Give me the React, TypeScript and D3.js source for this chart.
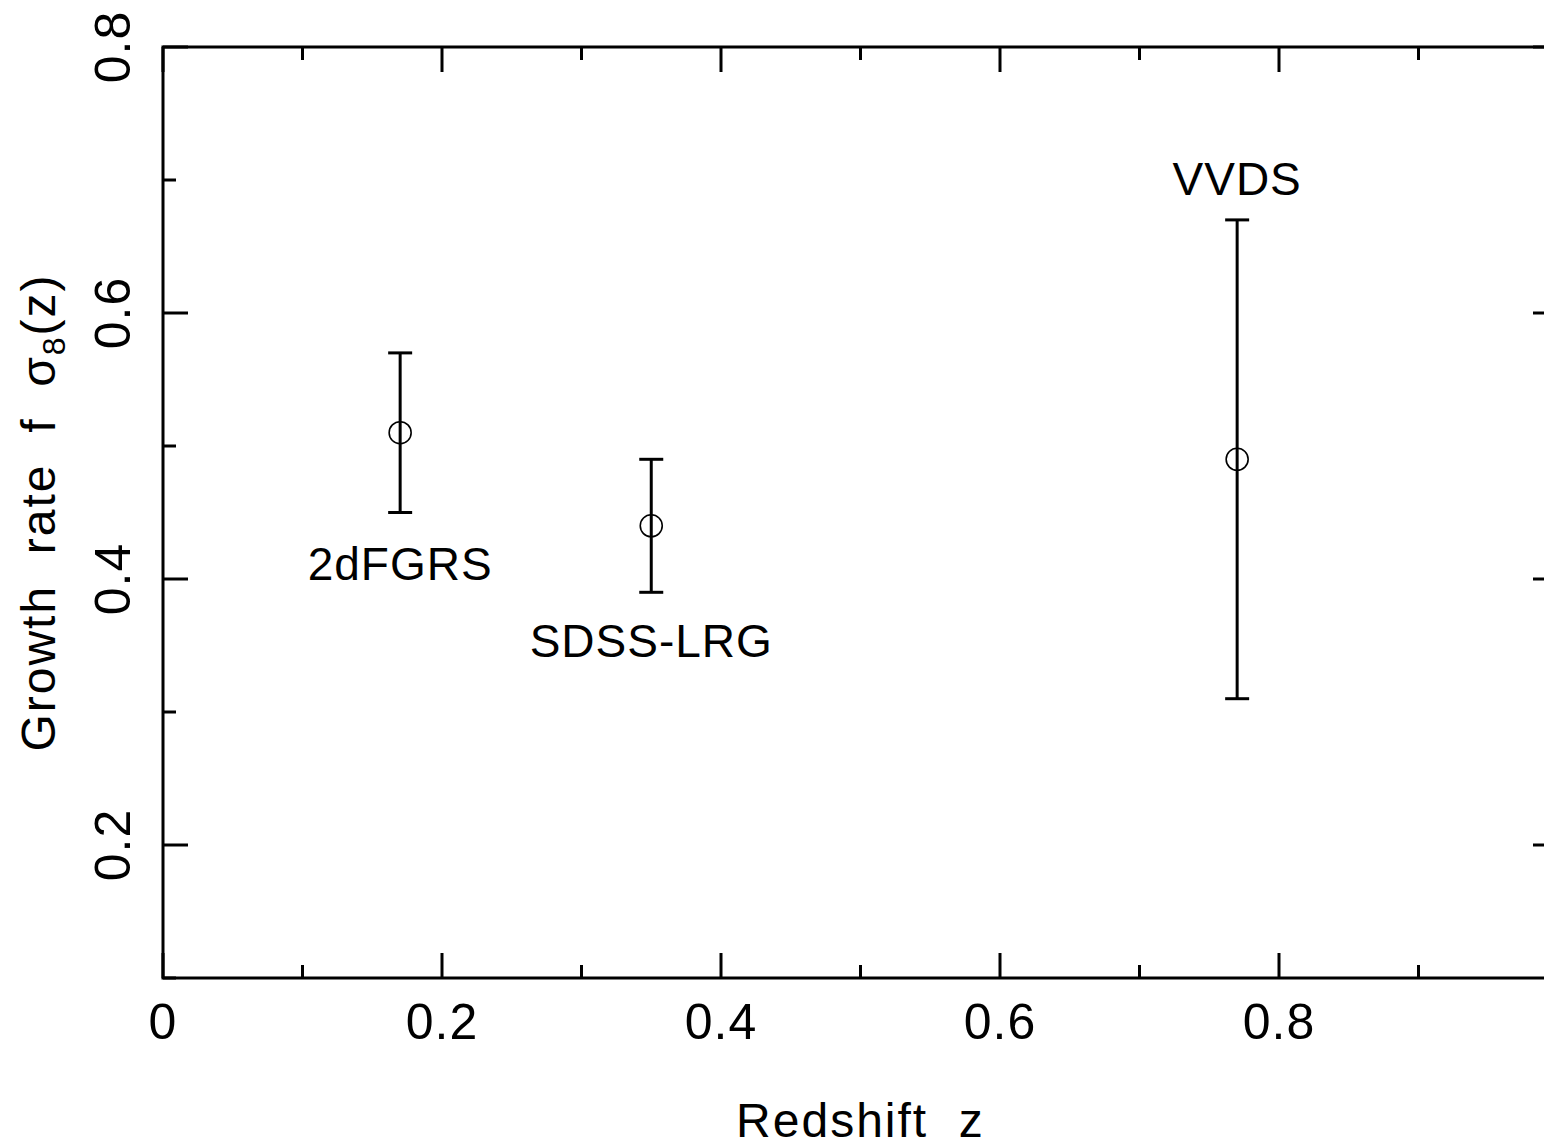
import React from "react";
import * as d3 from "d3";

const surveys = ["2dFGRS", "SDSS-LRG", "VVDS"];
const redshifts = [0.17, 0.35, 0.77];
const growth = [0.51, 0.44, 0.49];
const errLow = [0.45, 0.39, 0.31];
const errHigh = [0.57, 0.49, 0.67];
// label baselines in data units
const labelAnchorY = [0.399, 0.341, 0.689];
const xMajorTicks = [0, 0.2, 0.4, 0.6, 0.8];
const xMinorTicks = [0.1, 0.3, 0.5, 0.7, 0.9];
const yMajorTicks = [0.2, 0.4, 0.6, 0.8];
const yMinorTicks = [0.1, 0.3, 0.5, 0.7];

const W = 1544;
const H = 1146;
const FONT = "'Liberation Sans', Arial, sans-serif";

export default function App() {
  const x = d3.scaleLinear().domain([0, 1]).range([163, 1558]);
  const y = d3.scaleLinear().domain([0.1, 0.8]).range([978, 47]);
  const [x0, x1] = x.range();
  const [yb, yt] = y.range();
  const major = 25;
  const minor = 13;
  const sw = 3;
  const fmt = (v: number) => (v === 0 ? "0" : d3.format(".1f")(v));

  return (
    <svg
      width={W}
      height={H}
      style={{ position: "absolute", left: 0, top: 0, background: "#fff" }}
    >
      <rect x={0} y={0} width={W} height={H} fill="#fff" />
      {/* frame */}
      <rect
        x={x0}
        y={yt}
        width={x1 - x0}
        height={yb - yt}
        fill="none"
        stroke="#000"
        strokeWidth={sw}
      />
      {/* x ticks bottom & top */}
      {xMajorTicks.map((t) => (
        <g key={"xM" + t}>
          <line x1={x(t)} x2={x(t)} y1={yb} y2={yb - major} stroke="#000" strokeWidth={sw} />
          <line x1={x(t)} x2={x(t)} y1={yt} y2={yt + major} stroke="#000" strokeWidth={sw} />
          <text
            x={x(t)}
            y={1039}
            textAnchor="middle"
            fontFamily={FONT}
            fontSize={50}
            letterSpacing={1}
          >
            {fmt(t)}
          </text>
        </g>
      ))}
      {xMinorTicks.map((t) => (
        <g key={"xm" + t}>
          <line x1={x(t)} x2={x(t)} y1={yb} y2={yb - minor} stroke="#000" strokeWidth={sw} />
          <line x1={x(t)} x2={x(t)} y1={yt} y2={yt + minor} stroke="#000" strokeWidth={sw} />
        </g>
      ))}
      {/* y ticks left & right */}
      {yMajorTicks.map((t) => (
        <g key={"yM" + t}>
          <line x1={x0} x2={x0 + major} y1={y(t)} y2={y(t)} stroke="#000" strokeWidth={sw} />
          <line x1={x1} x2={x1 - major} y1={y(t)} y2={y(t)} stroke="#000" strokeWidth={sw} />
          <text
            transform={`translate(130,${y(t)}) rotate(-90)`}
            textAnchor="middle"
            fontFamily={FONT}
            fontSize={50}
            letterSpacing={1}
          >
            {fmt(t)}
          </text>
        </g>
      ))}
      {yMinorTicks.map((t) => (
        <g key={"ym" + t}>
          <line x1={x0} x2={x0 + minor} y1={y(t)} y2={y(t)} stroke="#000" strokeWidth={sw} />
          <line x1={x1} x2={x1 - minor} y1={y(t)} y2={y(t)} stroke="#000" strokeWidth={sw} />
        </g>
      ))}
      {/* data */}
      {surveys.map((s, i) => {
        const cx = x(redshifts[i]);
        return (
          <g key={s}>
            <line x1={cx} x2={cx} y1={y(errLow[i])} y2={y(errHigh[i])} stroke="#000" strokeWidth={sw} />
            <line x1={cx - 12} x2={cx + 12} y1={y(errLow[i])} y2={y(errLow[i])} stroke="#000" strokeWidth={sw} />
            <line x1={cx - 12} x2={cx + 12} y1={y(errHigh[i])} y2={y(errHigh[i])} stroke="#000" strokeWidth={sw} />
            <circle cx={cx} cy={y(growth[i])} r={11} fill="none" stroke="#000" strokeWidth={1.6} />
            <text
              x={cx}
              y={y(labelAnchorY[i])}
              textAnchor="middle"
              fontFamily={FONT}
              fontSize={46}
              letterSpacing={1}
            >
              {s}
            </text>
          </g>
        );
      })}
      {/* axis titles */}
      <text
        x={(x0 + x1) / 2}
        y={1137}
        textAnchor="middle"
        fontFamily={FONT}
        fontSize={48}
        letterSpacing={2}
        xmlSpace="preserve"
      >
        {"Redshift  z"}
      </text>
      <text
        transform={`translate(55,${(yb + yt) / 2}) rotate(-90)`}
        textAnchor="middle"
        fontFamily={FONT}
        fontSize={48}
        letterSpacing={2}
        xmlSpace="preserve"
      >
        {"Growth  rate  f  σ"}
        <tspan fontSize={32} dy={10}>8</tspan>
        <tspan dy={-10}>(z)</tspan>
      </text>
    </svg>
  );
}
